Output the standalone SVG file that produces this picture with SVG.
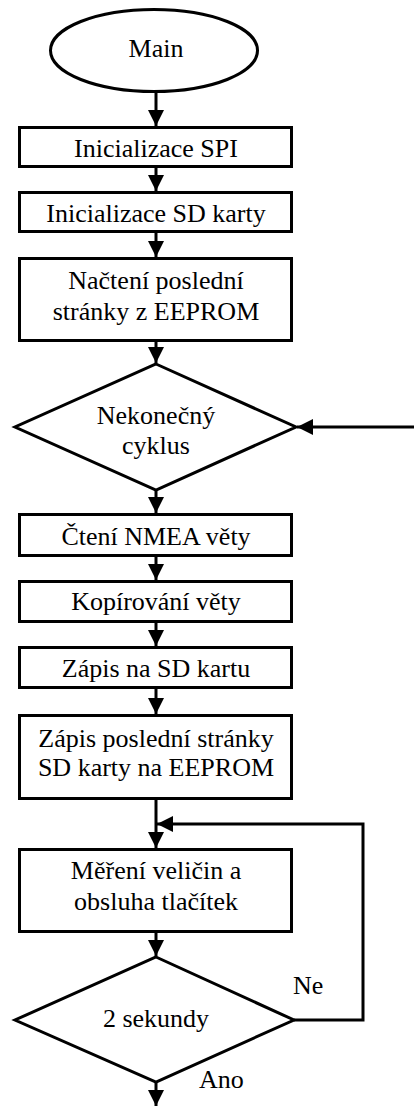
<svg xmlns="http://www.w3.org/2000/svg" width="414" height="1106" viewBox="0 0 414 1106">
<style>
.n{fill:#fff;stroke:#000;stroke-width:3}
.t{font-family:'Liberation Serif','Tinos','Times New Roman','DejaVu Serif',serif;font-size:26px;fill:#000;text-anchor:middle}
.l{font-family:'Liberation Serif','Tinos','Times New Roman','DejaVu Serif',serif;font-size:26px;fill:#000}
.c{fill:none;stroke:#000;stroke-width:3}
</style>
<defs>
<marker id="ah" markerUnits="userSpaceOnUse" markerWidth="16" markerHeight="16" viewBox="0 0 16 16" refX="16" refY="8" orient="auto">
<path d="M0,0 L16,8 L0,16 Z" fill="#000"/>
</marker>
</defs>
<rect width="414" height="1106" fill="#fff"/>
<g id="connectors">
<line class="c" x1="156" y1="92" x2="156" y2="126" marker-end="url(#ah)"/>
<line class="c" x1="156" y1="168" x2="156" y2="191" marker-end="url(#ah)"/>
<line class="c" x1="156" y1="233" x2="156" y2="257" marker-end="url(#ah)"/>
<line class="c" x1="156" y1="342" x2="156" y2="363" marker-end="url(#ah)"/>
<line class="c" x1="414" y1="427" x2="297" y2="427" marker-end="url(#ah)"/>
<line class="c" x1="156" y1="490" x2="156" y2="513" marker-end="url(#ah)"/>
<line class="c" x1="156" y1="557" x2="156" y2="580" marker-end="url(#ah)"/>
<line class="c" x1="156" y1="623" x2="156" y2="646" marker-end="url(#ah)"/>
<line class="c" x1="156" y1="689" x2="156" y2="714" marker-end="url(#ah)"/>
<line class="c" x1="156" y1="800" x2="156" y2="848" marker-end="url(#ah)"/>
<polyline class="c" points="294,1020 363,1020 363,824 157,824" marker-end="url(#ah)"/>
<line class="c" x1="156" y1="933" x2="156" y2="956" marker-end="url(#ah)"/>
<line class="c" x1="156" y1="1082" x2="156" y2="1106" marker-end="url(#ah)"/>
<text class="l" x="293" y="994" font-family="Liberation Serif, serif">Ne</text>
<text class="l" x="199" y="1088" font-family="Liberation Serif, serif">Ano</text>
</g>
<g id="main">
<ellipse class="n" cx="154" cy="50.5" rx="103.5" ry="41"/>
<text class="t" x="156" y="57">Main</text>
</g>
<g id="initSPI">
<rect class="n" x="19.5" y="127.5" width="272" height="39"/>
<text class="t" x="156" y="157">Inicializace SPI</text>
</g>
<g id="initSD">
<rect class="n" x="19.5" y="192.5" width="272" height="39"/>
<text class="t" x="156" y="222">Inicializace SD karty</text>
</g>
<g id="loadPage">
<rect class="n" x="19.5" y="258.5" width="272" height="82"/>
<text class="t" x="156" y="289">Načtení poslední</text>
<text class="t" x="156" y="320">stránky z EEPROM</text>
</g>
<g id="loop">
<polygon class="n" points="156,364 296,427 156,490 15,427"/>
<text class="t" x="156" y="424">Nekonečný</text>
<text class="t" x="156" y="454">cyklus</text>
</g>
<g id="readNMEA">
<rect class="n" x="19.5" y="514.5" width="272" height="41"/>
<text class="t" x="156" y="545">Čtení NMEA věty</text>
</g>
<g id="copy">
<rect class="n" x="19.5" y="581.5" width="272" height="40"/>
<text class="t" x="156" y="610">Kopírování věty</text>
</g>
<g id="writeSD">
<rect class="n" x="19.5" y="647.5" width="272" height="40"/>
<text class="t" x="156" y="677">Zápis na SD kartu</text>
</g>
<g id="writeEEPROM">
<rect class="n" x="19.5" y="715.5" width="272" height="83"/>
<text class="t" x="156" y="747">Zápis poslední stránky</text>
<text class="t" x="156" y="776">SD karty na EEPROM</text>
</g>
<g id="measure">
<rect class="n" x="19.5" y="849.5" width="272" height="82"/>
<text class="t" x="156" y="879">Měření veličin a</text>
<text class="t" x="156" y="910">obsluha tlačítek</text>
</g>
<g id="twoSec">
<polygon class="n" points="156,957 294,1020 156,1082 15,1020"/>
<text class="t" x="156" y="1027">2 sekundy</text>
</g>
</svg>
